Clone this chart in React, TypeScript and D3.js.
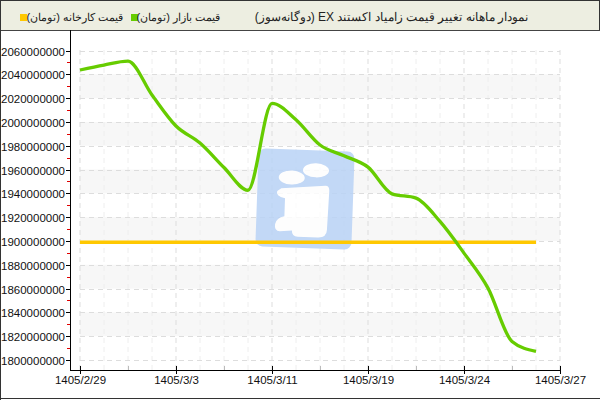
import * as d3 from "d3";

const tickLabels = ["1405/2/29", "1405/3/3", "1405/3/11", "1405/3/19", "1405/3/24", "1405/3/27"];

// قیمت بازار (تومان) - one value per day step
const marketPrice = [
  2043600000, 2047800000, 2051000000, 2022600000, 1996600000, 1982300000, 1961700000,
  1942600000, 2015500000, 2001800000, 1980600000, 1971500000, 1962000000, 1939600000,
  1936000000, 1916400000, 1889800000, 1860400000, 1815600000, 1807200000,
];

// قیمت کارخانه (تومان)
const factoryPrice = marketPrice.map(() => 1899000000);

const yTicks = d3.range(1800000000, 2060000001, 20000000);

const title = "نمودار ماهانه تغییر قیمت زامیاد اکستند EX (دوگانه‌سوز)";
const legendMarket = "قیمت بازار (تومان)";
const legendFactory = "قیمت کارخانه (تومان)";

const font = "'Liberation Sans', Arial, sans-serif";

export default function App() {
  const width = 600;
  const height = 400;
  const left = 80;
  const right = 560;

  const x = d3.scaleLinear().domain([0, 20]).range([left, right]);
  const y = d3.scaleLinear().domain([1800000000, 2060000000]).range([360, 50.5]);

  const line = d3
    .line<number>()
    .x((_, i) => x(i))
    .y((d) => y(d))
    .curve(d3.curveMonotoneX);

  const gridX = d3.range(0, 21);
  const minorY = yTicks.slice(0, -1).map((v) => v + 10000000);

  return (
    <svg
      width={width}
      height={height}
      style={{ position: "absolute", left: 0, top: 0, background: "#fff" }}
      fontFamily={font}
    >
      {/* header */}
      <rect x={0} y={0} width={600} height={30} fill="#EDEEE1" />
      <line x1={0} y1={30.5} x2={600} y2={30.5} stroke="#444" />
      <line x1={0.5} y1={0} x2={0.5} y2={400} stroke="#333" />
      <line x1={0} y1={0.5} x2={600} y2={0.5} stroke="#333" />
      <line x1={599.5} y1={0} x2={599.5} y2={30} stroke="#333" />
      <line x1={0} y1={398.5} x2={600} y2={398.5} stroke="#333" />

      <text x={528} y={21} fontSize={12} textAnchor="start" direction="rtl" fill="#222">
        {title}
      </text>
      <rect x={131} y={14} width={7} height={7} fill="#66CC00" />
      <text x={220} y={21} fontSize={11} textAnchor="start" direction="rtl" fill="#222">
        {legendMarket}
      </text>
      <rect x={20} y={14} width={7} height={7} fill="#FFC800" />
      <text x={123} y={21} fontSize={11} textAnchor="start" direction="rtl" fill="#222">
        {legendFactory}
      </text>

      {/* bands */}
      {yTicks.slice(0, -1).map((v, i) =>
        i % 2 === 1 ? (
          <rect
            key={"b" + v}
            x={left}
            y={y(v + 20000000)}
            width={right - left}
            height={y(v) - y(v + 20000000)}
            fill="#F7F7F7"
          />
        ) : null
      )}

      {/* grid */}
      {gridX.map((i) => (
        <line
          key={"gx" + i}
          x1={x(i)}
          x2={x(i)}
          y1={50}
          y2={370}
          stroke={i % 4 === 0 ? "#DDDDDD" : "#EEEEEE"}
          strokeDasharray="5,4"
        />
      ))}
      {yTicks.map((v) => (
        <line
          key={"gy" + v}
          x1={left}
          x2={right}
          y1={Math.round(y(v)) + 0.5}
          y2={Math.round(y(v)) + 0.5}
          stroke="#DDDDDD"
          strokeDasharray="5,4"
        />
      ))}

      {/* watermark */}
      <g transform="translate(305,199) rotate(2)" opacity={0.85}>
        <rect x={-48} y={-49} width={96} height={98} rx={7} fill="#B9D3F6" />
        <ellipse cx={-14} cy={-21} rx={13} ry={7} fill="#fff" />
        <ellipse cx={10} cy={-29} rx={13} ry={7} fill="#fff" />
        <path
          d="M-24,-10 L20,-14 Q24,-14 24,-9 L23,30 Q23,38 14,38 L-6,38 Q-12,38 -12,32 L-24,33 Q-30,33 -29,26 Q-28,20 -20,18 L-20,0 Q-30,-2 -28,-7 Z"
          fill="#fff"
        />
      </g>

      {/* series */}
      <path d={line(factoryPrice) ?? ""} fill="none" stroke="#FFC800" strokeWidth={3.5} />
      <path d={line(marketPrice) ?? ""} fill="none" stroke="#66CC00" strokeWidth={3.3} />

      {/* y axis */}
      <line x1={70.5} x2={70.5} y1={30} y2={370} stroke="#000" />
      {yTicks.map((v) => (
        <g key={"yt" + v} transform={`translate(0,${Math.round(y(v)) + 0.5})`}>
          <line x1={66} x2={70} stroke="#000" />
          <text x={65} dy="0.35em" fontSize={11.5} textAnchor="end" fill="#111">
            {v}
          </text>
        </g>
      ))}
      {minorY.map((v) => (
        <line
          key={"ym" + v}
          x1={67}
          x2={70}
          y1={Math.round(y(v)) + 0.5}
          y2={Math.round(y(v)) + 0.5}
          stroke="#E00000"
        />
      ))}

      {/* x axis */}
      <line x1={70} x2={right} y1={370.5} y2={370.5} stroke="#000" />
      {tickLabels.map((label, i) => (
        <g key={label} transform={`translate(${Math.round(x(i * 4)) + 0.5},370)`}>
          <line y1={-4} y2={4} stroke="#000" />
          <text y={14} fontSize={11.5} textAnchor="middle" fill="#111">
            {label}
          </text>
        </g>
      ))}
      {tickLabels.slice(0, -1).map((label, i) => (
        <line
          key={"xm" + label}
          x1={Math.round(x(i * 4 + 2)) + 0.5}
          x2={Math.round(x(i * 4 + 2)) + 0.5}
          y1={366}
          y2={370}
          stroke="#BBB"
        />
      ))}
    </svg>
  );
}
